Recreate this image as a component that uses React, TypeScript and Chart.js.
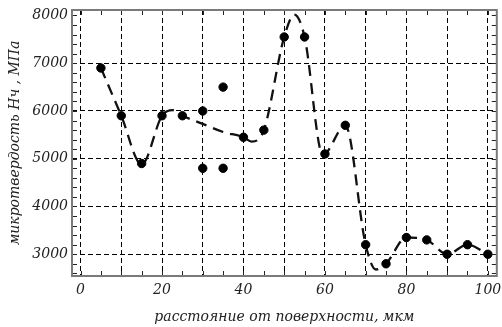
import React, { useEffect, useRef } from "react";
import { Chart, registerables } from "chart.js";

Chart.register(...registerables);

// measured points
const pointX = [5, 10, 15, 20, 25, 30, 30, 35, 35, 40, 45, 50, 55, 60, 65, 70, 75, 80, 85, 90, 95, 100];
const pointY = [6900, 5900, 4900, 5900, 5900, 6000, 4800, 6500, 4800, 5450, 5600, 7550, 7550, 5100, 5700, 3200, 2800, 3350, 3300, 3000, 3200, 3000];

// fitted dashed curve
const curveX = [5, 10, 15, 20, 22.5, 25, 30, 35, 40, 42, 45, 50, 52.5, 55, 59.5, 65, 70, 72.5, 75, 80, 85, 90, 95, 100];
const curveY = [6900, 5900, 4880, 5900, 6020, 5900, 5730, 5560, 5450, 5360, 5600, 7550, 8020, 7550, 5080, 5700, 3200, 2680, 2800, 3350, 3300, 3000, 3200, 3000];

const xGridTicks = [0, 10, 20, 30, 40, 50, 60, 70, 80, 90, 100];
const xLabelStep = 20;
const yGridTicks = [3000, 4000, 5000, 6000, 7000, 8000];
const xMinorStep = 5;
const yMinorStep = 200;

const X_MIN = -2.1;
const X_MAX = 102.2;
const Y_MIN = 2544;
const Y_MAX = 8115;

const xTitle = "расстояние от поверхности, мкм";
const yTitle = "микротвердость Hч , МПа";

const framePlugin = {
  id: "frameTicks",
  afterDraw(chart: any) {
    const { ctx, chartArea, scales } = chart;
    const { left, right, top, bottom } = chartArea;
    const xs = scales.x;
    const ys = scales.y;
    ctx.save();
    ctx.strokeStyle = "#222";
    ctx.lineWidth = 1;
    ctx.beginPath();
    for (let v = Math.ceil(X_MIN / xMinorStep) * xMinorStep; v <= X_MAX; v += xMinorStep) {
      const px = Math.round(xs.getPixelForValue(v)) + 0.5;
      ctx.moveTo(px, bottom);
      ctx.lineTo(px, bottom - 5);
      ctx.moveTo(px, top);
      ctx.lineTo(px, top + 5);
    }
    for (let v = Math.ceil(Y_MIN / yMinorStep) * yMinorStep; v <= Y_MAX; v += yMinorStep) {
      const py = Math.round(ys.getPixelForValue(v)) + 0.5;
      ctx.moveTo(left, py);
      ctx.lineTo(left + 5, py);
      ctx.moveTo(right, py);
      ctx.lineTo(right - 5, py);
    }
    ctx.stroke();
    ctx.strokeStyle = "#7a7a7a";
    ctx.lineWidth = 2;
    ctx.strokeRect(left, top, right - left, bottom - top);
    ctx.restore();
  },
};

export default function App() {
  const ref = useRef<HTMLCanvasElement | null>(null);

  useEffect(() => {
    if (!ref.current) return;
    const chart = new Chart(ref.current, {
      type: "scatter",
      data: {
        datasets: [
          {
            label: "points",
            data: pointX.map((x, i) => ({ x, y: pointY[i] })),
            backgroundColor: "#000",
            borderColor: "#000",
            pointRadius: 4.2,
            pointHoverRadius: 4.2,
            order: 0,
          },
          {
            label: "curve",
            data: curveX.map((x, i) => ({ x, y: curveY[i] })),
            showLine: true,
            borderColor: "#111",
            borderWidth: 2.3,
            borderDash: [11, 7],
            pointRadius: 0,
            cubicInterpolationMode: "monotone",
            fill: false,
            order: 1,
          } as any,
        ],
      },
      options: {
        animation: false,
        responsive: true,
        maintainAspectRatio: false,
        layout: { padding: { top: 10, right: 5, left: 7, bottom: 1 } },
        plugins: {
          legend: { display: false },
          tooltip: { enabled: false },
        },
        scales: {
          x: {
            type: "linear",
            min: X_MIN,
            max: X_MAX,
            afterBuildTicks: (s: any) => {
              s.ticks = xGridTicks.map((v) => ({ value: v }));
            },
            afterFit: (s: any) => {
              s.height = 50;
              s.paddingLeft = 0;
              s.paddingRight = 0;
            },
            grid: {
              color: "#000",
              lineWidth: 1,
              drawTicks: false,
            },
            border: { display: false, dash: [5, 3] },
            ticks: {
              padding: 6,
              color: "#222",
              autoSkip: false,
              maxRotation: 0,
              font: { family: "'DejaVu Serif'", style: "italic", size: 14 },
              callback: (v: any) => (Number(v) % xLabelStep === 0 ? String(v) : ""),
            },
            title: {
              display: true,
              text: xTitle,
              color: "#222",
              font: { family: "'DejaVu Serif'", style: "italic", size: 14 },
              padding: 0,
            },
          },
          y: {
            type: "linear",
            min: Y_MIN,
            max: Y_MAX,
            afterBuildTicks: (s: any) => {
              s.ticks = yGridTicks.map((v) => ({ value: v }));
            },
            afterFit: (s: any) => {
              s.width = 65;
              s.paddingTop = 0;
              s.paddingBottom = 0;
            },
            grid: {
              color: (c: any) => (c.tick && c.tick.value === 8000 ? "rgba(0,0,0,0)" : "#000"),
              lineWidth: 1,
              drawTicks: false,
            },
            border: { display: false, dash: [5, 3] },
            ticks: {
              padding: 4,
              color: "#222",
              autoSkip: false,
              font: { family: "'DejaVu Serif'", style: "italic", size: 14 },
              callback: (v: any) => String(v),
            },
            title: {
              display: true,
              text: yTitle,
              color: "#222",
              font: { family: "'DejaVu Serif'", style: "italic", size: 14 },
              padding: 0,
            },
          },
        },
      },
      plugins: [framePlugin],
    });
    return () => chart.destroy();
  }, []);

  return (
    <div style={{ position: "absolute", left: 0, top: 0, width: 502, height: 327, background: "#fff" }}>
      <canvas ref={ref} />
    </div>
  );
}
